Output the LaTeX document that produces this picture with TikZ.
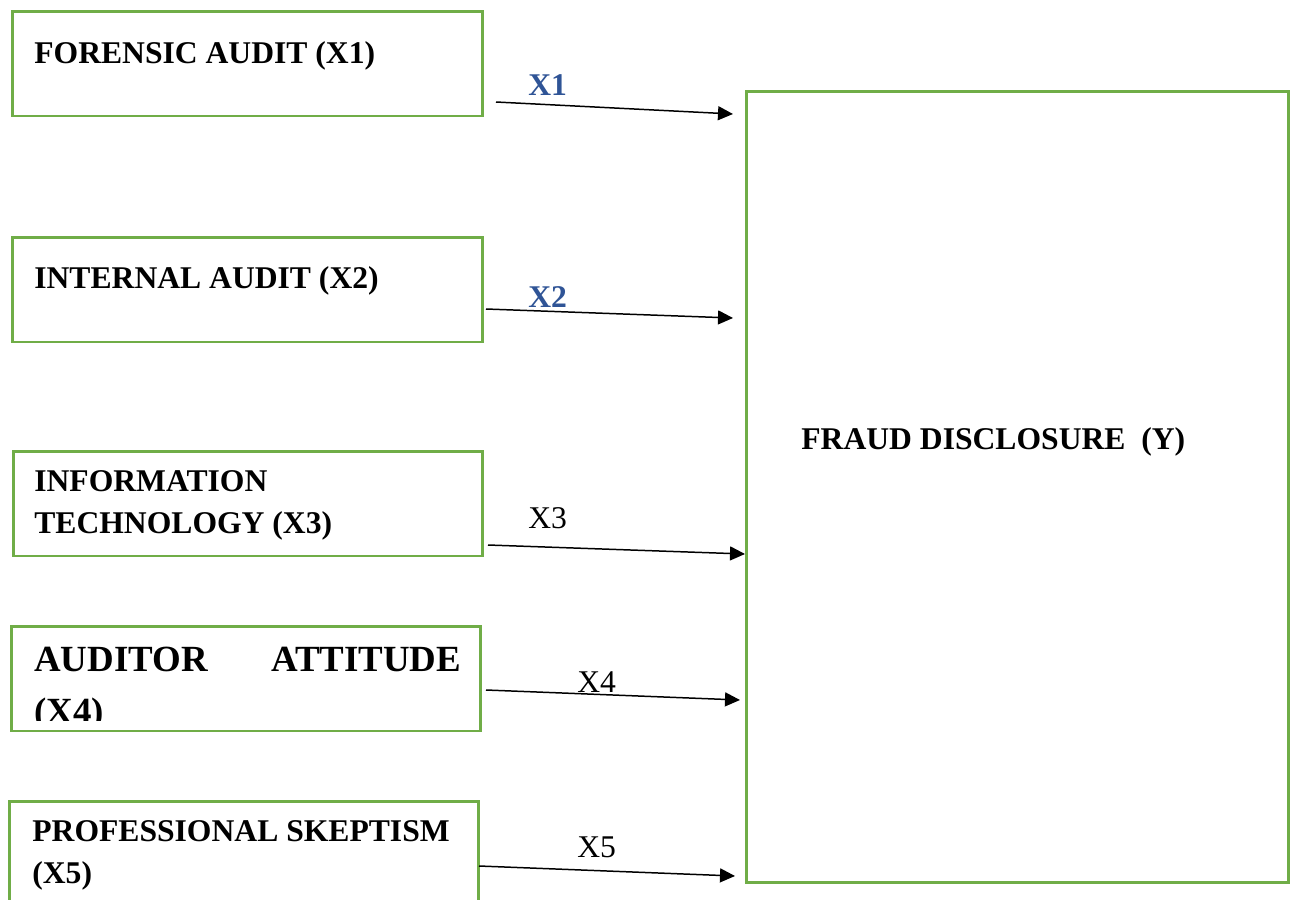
\documentclass[tikz,border=0pt]{standalone}
\usepackage{fontspec}
\setmainfont{Liberation Serif}
\usetikzlibrary{arrows.meta}

\definecolor{boxgreen}{HTML}{70AD47}
\definecolor{coefblue}{HTML}{2F5496}

\begin{document}
\begin{tikzpicture}[x=0.02cm, y=-0.02cm,
  varbox/.style={draw=boxgreen, line width=1.7pt, inner sep=0pt},
  vartext/.style={anchor=base west, inner sep=0pt, align=left,
    font=\fontsize{18}{23.5}\selectfont\bfseries},
  coef/.style={anchor=base west, inner sep=0pt, font=\fontsize{18}{22}\selectfont},
  link/.style={-{Triangle[length=0.3cm, width=0.28cm]}, line width=0.85pt}]
  \useasboundingbox (0,0) rectangle (1296,900);

  % Independent variables
  \node[varbox, minimum width=9.42cm, minimum height=2.1cm] (fa) at (247.5,63.5) {};
  \node[varbox, minimum width=9.42cm, minimum height=2.1cm] (ia) at (247.5,289.5) {};
  \node[varbox, minimum width=9.40cm, minimum height=2.1cm] (it) at (248,503.5) {};
  \node[varbox, minimum width=9.40cm, minimum height=2.1cm] (aa) at (246,678.5) {};
  \node[varbox, minimum width=9.40cm, minimum height=2.1cm] (ps) at (244,853.5) {};

  % (base of a two-line node = last line)
  \node[vartext] (fatext) at (34,63) {FORENSIC AUDIT (X1)};
  \node[vartext] (iatext) at (34,288) {INTERNAL AUDIT (X2)};
  \node[vartext] (ittext) at (34,533) {INFORMATION\\TECHNOLOGY (X3)};
  \begin{scope}
    \clip (0,600) rectangle (1296,720);
    \node[vartext, font=\fontsize{21}{30}\selectfont\bfseries, text width=8.54cm]
      (aatext) at (34,671) {AUDITOR\hfill ATTITUDE\\(X4)};
  \end{scope}
  \node[vartext] (pstext) at (32,883) {PROFESSIONAL SKEPTISM\\(X5)};

  % Dependent variable
  \node[varbox, minimum width=10.86cm, minimum height=15.84cm] (fd) at (1017.5,487) {};
  \node[vartext] (fdtext) at (801,449) {FRAUD DISCLOSURE\ \ (Y)};

  % Paths
  \coordinate (out1) at (496,102);  \coordinate (in1) at (733,114);
  \coordinate (out2) at (486,309);  \coordinate (in2) at (733,318);
  \coordinate (out3) at (488,545);  \coordinate (in3) at (745,554);
  \coordinate (out4) at (486,690);  \coordinate (in4) at (740,700);
  \coordinate (out5) at (479,866);  \coordinate (in5) at (735,876);
  \draw[link] (out1) -- (in1);
  \draw[link] (out2) -- (in2);
  \draw[link] (out3) -- (in3);
  \draw[link] (out4) -- (in4);
  \draw[link] (out5) -- (in5);

  \node[coef, font=\fontsize{18}{22}\selectfont\bfseries, text=coefblue] (x1) at (528,95) {X1};
  \node[coef, font=\fontsize{18}{22}\selectfont\bfseries, text=coefblue] (x2) at (528,307) {X2};
  \node[coef] (x3) at (528,528) {X3};
  \node[coef] (x4) at (577,692) {X4};
  \node[coef] (x5) at (577,857) {X5};
\end{tikzpicture}
\end{document}
